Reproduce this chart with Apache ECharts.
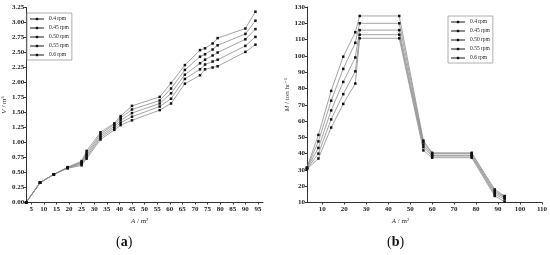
<!DOCTYPE html>
<html lang="en">
<head>
    <meta charset="UTF-8">
    <title>rpm</title>
    <script src="https://cdn.jsdelivr.net/npm/echarts@6/dist/echarts.min.js"></script>
</head>
<body style="margin:0">
<div id="chart" style="width: 550px;height:255px;"></div>
<script>
    let rpmNames = ['0.4 rpm', '0.45 rpm', '0.50 rpm', '0.55 rpm', '0.6 rpm'];

    // (a) V / m3 against A / m2
    let areaA = [3, 8.5, 14, 19.5, 25, 27, 32.5, 38, 40.5, 45, 56, 60.5, 66, 72, 74, 77, 79, 90, 94];
    let vol04 = [0, 0.33, 0.47, 0.57, 0.62, 0.73, 1.05, 1.21, 1.29, 1.37, 1.54, 1.65, 1.98, 2.12, 2.22, 2.25, 2.27, 2.51, 2.63];
    let vol045 = [0, 0.33, 0.47, 0.575, 0.64, 0.76, 1.08, 1.24, 1.33, 1.43, 1.60, 1.73, 2.06, 2.22, 2.30, 2.35, 2.38, 2.61, 2.76];
    let vol050 = [0, 0.33, 0.47, 0.58, 0.66, 0.79, 1.11, 1.27, 1.37, 1.49, 1.65, 1.82, 2.13, 2.32, 2.38, 2.45, 2.50, 2.72, 2.89];
    let vol055 = [0, 0.33, 0.47, 0.585, 0.67, 0.82, 1.14, 1.30, 1.41, 1.55, 1.70, 1.90, 2.21, 2.43, 2.47, 2.55, 2.62, 2.81, 3.03];
    let vol06 = [0, 0.33, 0.47, 0.59, 0.69, 0.86, 1.17, 1.32, 1.44, 1.61, 1.76, 1.99, 2.29, 2.54, 2.57, 2.65, 2.74, 2.90, 3.18];
    let xTicksA = [5, 10, 15, 20, 25, 30, 35, 40, 45, 50, 55, 60, 65, 70, 75, 80, 85, 90, 95];

    // (b) M / ton hr-1 against A / m2
    let areaB = [3, 8.2, 14, 19.5, 25, 27, 45, 56, 60, 78, 88.5, 93];
    let flow04 = [30.5, 37, 56, 70.5, 83, 110.8, 110.8, 42, 37.5, 37.5, 14, 10.5];
    let flow045 = [30.8, 40, 61, 76.5, 90.5, 113, 113, 44, 38.5, 38.5, 15, 12];
    let flow050 = [31, 43.5, 66.5, 84, 99, 115.8, 115.8, 45.5, 39, 39, 16, 13];
    let flow055 = [31.3, 47.5, 72.5, 92, 108, 120, 120, 47, 40, 40, 17, 13.5];
    let flow06 = [31.5, 51.5, 78.5, 99.5, 114.5, 124.5, 124.5, 48, 40.5, 40.5, 18, 14];
    let xTicksB = [10, 20, 30, 40, 50, 60, 70, 80, 90, 100, 110];

    let serif = '"Liberation Serif", "DejaVu Serif", serif';
    let chart = echarts.init(document.getElementById('chart'));

    function zip(xs, ys) {
        return xs.map(function (x, i) { return [x, ys[i]]; });
    }

    function makeSeries(idx, xs, list) {
        return list.map(function (ys, i) {
            return {
                name: rpmNames[i],
                type: 'line',
                xAxisIndex: idx,
                yAxisIndex: idx,
                data: zip(xs, ys),
                symbol: 'rect',
                symbolSize: 2.5,
                lineStyle: {color: '#8c8c8c', width: 0.8},
                itemStyle: {color: '#111'},
                animation: false
            };
        });
    }

    let axisText = {fontFamily: serif, fontSize: 7, fontWeight: 'bold', color: '#222'};
    let axisLine = {show: true, lineStyle: {color: '#333', width: 1}};

    function legendAt(left, top) {
        return {
            data: rpmNames,
            orient: 'vertical',
            left: left,
            top: top,
            padding: [3, 3, 2, 2],
            borderColor: '#999',
            borderWidth: 0.8,
            itemWidth: 14,
            itemHeight: 3,
            itemGap: 3,
            textStyle: {fontFamily: serif, fontSize: 5.5, color: '#222', lineHeight: 5},
            selectedMode: false
        };
    }

    let option = {
        backgroundColor: '#fff',
        animation: false,
        grid: [
            {left: 23, top: 7.5, width: 240, height: 195},
            {left: 307, top: 7, width: 239, height: 195.5}
        ],
        legend: [legendAt(27, 13), legendAt(448, 16)],
        xAxis: [{
            type: 'value', gridIndex: 0, min: 3, max: 97,
            axisLine: axisLine, splitLine: {show: false},
            axisTick: {customValues: xTicksA, length: 2},
            axisLabel: Object.assign({customValues: xTicksA, margin: 3}, axisText),
            name: '{i|A} / m²', nameLocation: 'middle', nameGap: 11,
            nameTextStyle: {fontFamily: serif, fontSize: 7, padding: [0, 10, 0, 0],
                rich: {i: {fontFamily: serif, fontSize: 7, fontStyle: 'italic'}}}
        }, {
            type: 'value', gridIndex: 1, min: 3, max: 110,
            axisLine: axisLine, splitLine: {show: false},
            axisTick: {customValues: xTicksB, length: 2},
            axisLabel: Object.assign({customValues: xTicksB, margin: 3}, axisText),
            name: '{i|A} / m²', nameLocation: 'middle', nameGap: 11,
            nameTextStyle: {fontFamily: serif, fontSize: 7, padding: [0, 48, 0, 0],
                rich: {i: {fontFamily: serif, fontSize: 7, fontStyle: 'italic'}}}
        }],
        yAxis: [{
            type: 'value', gridIndex: 0, min: 0, max: 3.25, interval: 0.25,
            axisLine: axisLine, splitLine: {show: false},
            axisTick: {length: 2},
            axisLabel: Object.assign({margin: 2, formatter: function (v) { return v.toFixed(2); }}, axisText),
            name: '{i|V} / m³', nameLocation: 'middle', nameGap: 14,
            nameTextStyle: {fontFamily: serif, fontSize: 7,
                rich: {i: {fontFamily: serif, fontSize: 7, fontStyle: 'italic'}}}
        }, {
            type: 'value', gridIndex: 1, min: 10, max: 130, interval: 10,
            axisLine: axisLine, splitLine: {show: false},
            axisTick: {length: 2},
            axisLabel: Object.assign({margin: 2}, axisText),
            name: '{i|M} / ton hr⁻¹', nameLocation: 'middle', nameGap: 10,
            nameTextStyle: {fontFamily: serif, fontSize: 7, padding: [0, 0, 0, 20],
                rich: {i: {fontFamily: serif, fontSize: 7, fontStyle: 'italic'}}}
        }],
        graphic: [
            {type: 'text', left: 116, top: 235,
                style: {text: '({b|a})', font: '14px ' + serif, fill: '#111',
                    rich: {b: {fontFamily: serif, fontSize: 14, fontWeight: 'bold'}}}},
            {type: 'text', left: 387, top: 235,
                style: {text: '({b|b})', font: '14px ' + serif, fill: '#111',
                    rich: {b: {fontFamily: serif, fontSize: 14, fontWeight: 'bold'}}}}
        ],
        series: makeSeries(0, areaA, [vol04, vol045, vol050, vol055, vol06])
            .concat(makeSeries(1, areaB, [flow04, flow045, flow050, flow055, flow06]))
    };

    chart.setOption(option);
</script>
</body>
</html>
